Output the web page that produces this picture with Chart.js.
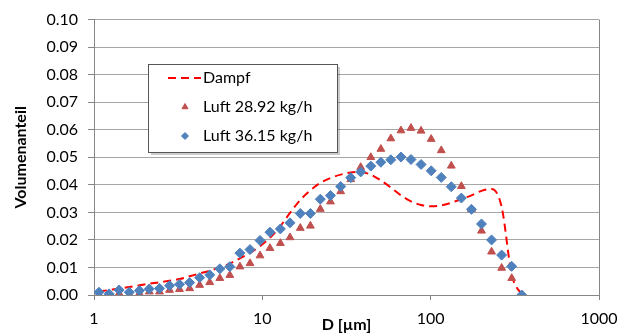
<!DOCTYPE html>
<html>
<head>
<meta charset="utf-8">
<script src="https://cdn.jsdelivr.net/npm/chart.js@4/dist/chart.umd.min.js"></script>
<style>
  html, body { margin: 0; padding: 0; background: #fff; }
  #wrap { width: 620px; height: 334px; }
</style>
</head>
<body>
<div id="wrap"><canvas id="myChart" width="620" height="334"></canvas></div>
<script>
// particle diameters D [µm] (log-spaced bins)
const diameters = [1.07, 1.23, 1.41, 1.62, 1.86, 2.13, 2.45, 2.81, 3.22, 3.70,
  4.24, 4.87, 5.59, 6.41, 7.36, 8.45, 9.69, 11.1, 12.8, 14.6,
  16.8, 19.3, 22.1, 25.4, 29.2, 33.5, 38.4, 44.1, 50.6, 58.0,
  66.6, 76.4, 87.7, 100.7, 115.6, 132.6, 152.2, 174.7, 200.4, 230.0,
  264.0, 302.9, 347.6];

// Volumenanteil
const dampf = [0.0013, 0.0018, 0.0024, 0.0029, 0.0035, 0.0041, 0.0046, 0.0052, 0.0058, 0.0068,
  0.0078, 0.0088, 0.0100, 0.0114, 0.0133, 0.0153, 0.0177, 0.0208, 0.0250, 0.0298,
  0.0345, 0.0380, 0.0407, 0.0425, 0.0437, 0.0445, 0.0447, 0.0437, 0.0416, 0.0390,
  0.0362, 0.0340, 0.0327, 0.0322, 0.0325, 0.0335, 0.0348, 0.0362, 0.0378, 0.0385,
  0.0320, 0.0075, 0.0000];

const luft2892 = [0.0003, 0.0000, 0.0006, 0.0003, 0.0006, 0.0012, 0.0012, 0.0018, 0.0021, 0.0024,
  0.0036, 0.0046, 0.0061, 0.0072, 0.0103, 0.0115, 0.0143, 0.0170, 0.0188, 0.0209,
  0.0243, 0.0251, 0.0312, 0.0339, 0.0376, 0.0420, 0.0464, 0.0500, 0.0530, 0.0568,
  0.0597, 0.0606, 0.0596, 0.0566, 0.0525, 0.0469, 0.0395, 0.0311, 0.0233, 0.0157,
  0.0098, 0.0061, 0.0000];

const luft3615 = [0.0010, 0.0004, 0.0018, 0.0010, 0.0016, 0.0022, 0.0024, 0.0034, 0.0039, 0.0045,
  0.0063, 0.0073, 0.0095, 0.0103, 0.0152, 0.0165, 0.0198, 0.0228, 0.0240, 0.0262,
  0.0296, 0.0296, 0.0348, 0.0361, 0.0394, 0.0426, 0.0447, 0.0468, 0.0482, 0.0491,
  0.0501, 0.0492, 0.0474, 0.0451, 0.0427, 0.0393, 0.0352, 0.0311, 0.0258, 0.0200,
  0.0145, 0.0104, 0.0000];

const xTicks = [1, 10, 100, 1000];

function pts(arr) {
    return arr.map(function (v, i) {
        return { x: diameters[i], y: v };
    });
}

const FONT = 'Lato, "Open Sans", sans-serif';
const AXIS = '#868686';

// Excel-style legend box inside the plot
const legendBox = {
    id: 'legendBox',
    afterDraw(chart) {
        const ctx = chart.ctx;
        const bx = 148, by = 64, bw = 189, bh = 88;
        ctx.save();
        ctx.fillStyle = 'rgba(0,0,0,0.2)';
        ctx.fillRect(bx + 3, by + 3, bw, bh);
        ctx.fillStyle = '#fff';
        ctx.fillRect(bx, by, bw, bh);
        ctx.strokeStyle = '#555';
        ctx.lineWidth = 1;
        ctx.strokeRect(bx + 0.5, by + 0.5, bw, bh);

        const rows = [78, 107, 136];
        chart.data.datasets.forEach(function (ds, i) {
            const y = rows[i];
            if (ds.showLine) {
                ctx.strokeStyle = ds.borderColor;
                ctx.lineWidth = ds.borderWidth;
                ctx.setLineDash(ds.borderDash);
                ctx.beginPath();
                ctx.moveTo(168, y);
                ctx.lineTo(201, y);
                ctx.stroke();
                ctx.setLineDash([]);
            } else {
                ctx.fillStyle = ds.backgroundColor;
                ctx.strokeStyle = ds.borderColor;
                ctx.lineWidth = 1;
                Chart.helpers.drawPoint(ctx, { pointStyle: ds.pointStyle, radius: 3.5, rotation: 0, borderWidth: 1 }, 185, y);
            }
            ctx.fillStyle = '#000';
            ctx.font = '16px ' + FONT;
            ctx.textBaseline = 'middle';
            ctx.textAlign = 'left';
            ctx.fillText(ds.label, 203, y);
        });
        ctx.restore();
    }
};

// right border of plot area
const plotBorder = {
    id: 'plotBorder',
    beforeDatasetsDraw(chart) {
        const a = chart.chartArea;
        const ctx = chart.ctx;
        ctx.save();
        ctx.strokeStyle = AXIS;
        ctx.lineWidth = 1;
        ctx.beginPath();
        ctx.moveTo(Math.round(a.right) + 0.5, a.top);
        ctx.lineTo(Math.round(a.right) + 0.5, a.bottom);
        ctx.stroke();
        ctx.restore();
    }
};

const ctx = document.getElementById('myChart').getContext('2d');
const chart = new Chart(ctx, {
    type: 'scatter',
    data: {
        datasets: [{
            label: 'Dampf',
            data: pts(dampf),
            showLine: true,
            borderColor: '#ff0000',
            borderWidth: 2,
            borderDash: [8, 5],
            pointRadius: 0,
            cubicInterpolationMode: 'monotone',
            order: 3
        }, {
            label: 'Luft 28.92 kg/h',
            data: pts(luft2892),
            showLine: false,
            pointStyle: 'triangle',
            pointRadius: 4.5,
            backgroundColor: '#c0504d',
            borderColor: '#c0504d',
            borderWidth: 1,
            order: 2
        }, {
            label: 'Luft 36.15 kg/h',
            data: pts(luft3615),
            showLine: false,
            pointStyle: 'rectRot',
            pointRadius: 5,
            backgroundColor: '#4f81bd',
            borderColor: '#4f81bd',
            borderWidth: 1,
            order: 1
        }]
    },
    options: {
        responsive: false,
        animation: false,
        layout: { padding: { top: 9, right: 21, left: 0, bottom: 0 } },
        plugins: {
            legend: { display: false },
            tooltip: { enabled: false }
        },
        scales: {
            x: {
                type: 'logarithmic',
                min: 1,
                max: 1000,
                afterBuildTicks: function (scale) {
                    scale.ticks = xTicks.map(function (v) { return { value: v }; });
                },
                afterFit: function (scale) {
                    scale.height = 39;
                    scale.paddingRight = 21;
                },
                ticks: {
                    autoSkip: false,
                    maxRotation: 0,
                    padding: 9,
                    color: '#000',
                    font: { family: FONT, size: 16 },
                    callback: function (v) { return String(v); }
                },
                grid: { drawOnChartArea: false, tickLength: 5, color: AXIS },
                border: { color: AXIS },
                title: {
                    display: true,
                    text: 'D [µm]',
                    color: '#000',
                    font: { family: FONT, size: 16, weight: 'bold' },
                    padding: { top: 0, bottom: 0 }
                }
            },
            y: {
                min: 0,
                max: 0.1,
                afterFit: function (scale) { scale.width = 94; },
                ticks: {
                    stepSize: 0.01,
                    padding: 10,
                    color: '#000',
                    font: { family: FONT, size: 16 },
                    callback: function (v) { return v.toFixed(2); }
                },
                grid: { color: '#a6a6a6', tickLength: 6, tickColor: AXIS },
                border: { color: AXIS },
                title: {
                    display: true,
                    text: 'Volumenanteil',
                    color: '#000',
                    font: { family: FONT, size: 16, weight: 'bold' },
                    padding: { top: 11, bottom: 0 }
                }
            }
        }
    },
    plugins: [plotBorder, legendBox]
});
</script>
</body>
</html>
